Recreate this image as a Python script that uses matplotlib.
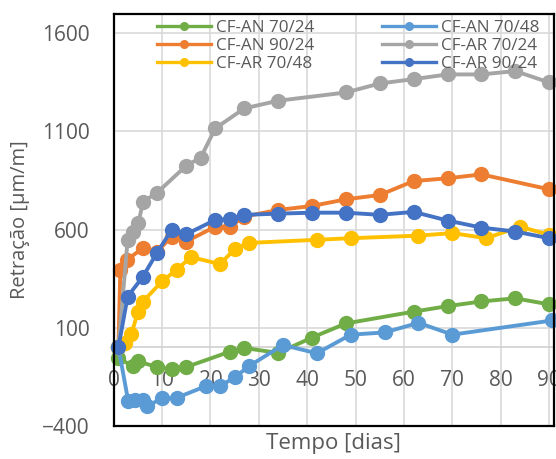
import matplotlib
matplotlib.use("Agg")
import matplotlib.pyplot as plt
from matplotlib.lines import Line2D

plt.rcParams['font.family'] = ['Open Sans', 'DejaVu Sans']

# data (dias, retração µm/m)
an_70_24_x = [1, 4, 5, 9, 12, 15, 24, 27, 34, 41, 48, 62, 69, 76, 83, 90]
an_70_24_y = [-54, -97, -71, -100, -112, -100, -22, -3, -28, 50, 122, 182, 210, 234, 250, 219]

an_70_48_x = [1, 3, 4.5, 6, 7, 10, 13, 19, 22, 25, 28, 35, 42, 49, 56, 63, 70, 90.6]
an_70_48_y = [0, -271, -266, -269, -298, -260, -257, -198, -197, -153, -95, 12, -30, 65, 76, 125, 65, 137]

an_90_24_x = [1, 1.4, 2.8, 6, 9, 12, 15, 21, 24, 27, 34, 41, 48, 55, 62, 69, 76, 90]
an_90_24_y = [0, 395, 446, 505, 488, 564, 539, 615, 615, 666, 700, 720, 754, 776, 847, 861, 881, 805]

ar_70_24_x = [1, 2.9, 4.1, 5.1, 6.1, 9, 15, 18, 21, 27, 34, 48, 55, 62, 69, 76, 83, 90]
ar_70_24_y = [0, 547, 590, 632, 742, 788, 925, 966, 1115, 1217, 1256, 1298, 1344, 1366, 1390, 1390, 1407, 1349]

ar_70_48_x = [1, 2.4, 3.7, 5, 6, 10, 13, 16, 22, 25, 28, 42, 49, 63, 70, 77, 84, 90]
ar_70_48_y = [0, 22, 68, 180, 232, 336, 395, 460, 424, 500, 532, 548, 556, 569, 582, 556, 615, 573]

ar_90_24_x = [1, 2.9, 6, 9, 12, 15, 21, 24, 27, 34, 41, 48, 55, 62, 69, 76, 83, 90]
ar_90_24_y = [0, 259, 358, 483, 598, 576, 649, 653, 675, 681, 686, 686, 675, 690, 646, 610, 590, 556]

series = [
    ("CF-AN 70/24", an_70_24_x, an_70_24_y, "#70AD47"),
    ("CF-AN 70/48", an_70_48_x, an_70_48_y, "#5B9BD5"),
    ("CF-AN 90/24", an_90_24_x, an_90_24_y, "#ED7D31"),
    ("CF-AR 70/24", ar_70_24_x, ar_70_24_y, "#A5A5A5"),
    ("CF-AR 70/48", ar_70_48_x, ar_70_48_y, "#FFC000"),
    ("CF-AR 90/24", ar_90_24_x, ar_90_24_y, "#4472C4"),
]

txt = "#595959"
fig = plt.figure(figsize=(5.56, 4.59), dpi=100)
ax = fig.add_axes([0.2043, 0.072, 0.7921, 0.8985])

ax.set_xlim(0, 91)
ax.set_ylim(-400, 1700)
ax.set_xticks(range(0, 91, 10))
ax.set_yticks([-400, 100, 600, 1100, 1600])
ax.grid(True, color="#D9D9D9", lw=1.2, zorder=0)
ax.axhline(0, color="#D0D0D0", lw=1.2, zorder=1)
ax.set_axisbelow(True)

handles = {}
for name, xs, ys, c in series:
    ax.plot(xs, ys, color=c, lw=2.8, marker="o", ms=10, zorder=3, clip_on=False)
    handles[name] = Line2D([], [], color=c, lw=2.4, marker="o", ms=5.5)

for s in ax.spines.values():
    s.set_color("black")
    s.set_linewidth(1.6)
    s.set_zorder(5)

ax.tick_params(axis="both", length=0, labelsize=15, labelcolor=txt)
ax.tick_params(axis="y", pad=17)
ax.tick_params(axis="x", pad=-40)
for lab in ax.get_xticklabels():
    lab.set_zorder(6)

ax.set_ylabel("Retração [µm/m]", fontsize=14.5, color=txt, labelpad=9)
ax.set_xlabel("Tempo [dias]", fontsize=16, color=txt, labelpad=5)

# legend filled column-wise, so order to read row-wise like the reference
order = ["CF-AN 70/24", "CF-AN 90/24", "CF-AR 70/48",
         "CF-AN 70/48", "CF-AR 70/24", "CF-AR 90/24"]
ax.legend([handles[n] for n in order], order, ncol=2, frameon=False,
          loc="upper left", bbox_to_anchor=(0.095, 0.988), borderaxespad=0,
          borderpad=0.1, fontsize=12.3, labelcolor=txt, handlelength=3.15,
          handletextpad=0.3, labelspacing=0.12, columnspacing=3.95)

fig.savefig("out.png", dpi=100)
